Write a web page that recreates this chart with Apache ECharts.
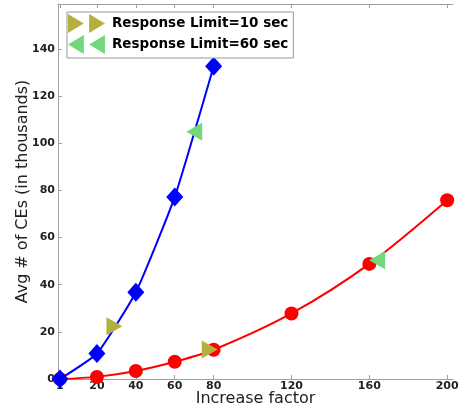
<!DOCTYPE html>
<html>
<head>
<meta charset="utf-8">
<script src="https://cdn.jsdelivr.net/npm/echarts@6/dist/echarts.min.js"></script>
<style>html,body{margin:0;padding:0;background:#fff;}#c{width:460px;height:410px;}</style>
</head>
<body>
<div id="c"></div>
<script>
// Data
const xTicks = [1, 20, 40, 60, 80, 120, 160, 200];
const yTicks = [0, 20, 40, 60, 80, 100, 120, 140];
const blueX = [1, 20, 40, 60, 80];
const blueY = [0, 10.8, 36.8, 77.2, 132.6];
const redX = [1, 20, 40, 60, 80, 120, 160, 200];
const redY = [0, 0.9, 3.4, 7.3, 12.4, 27.8, 48.8, 75.8];
const lim10X = [29, 78];
const lim10Y = [22.4, 12.5];
const lim60X = [70, 164];
const lim60Y = [104.8, 50.4];
const name10 = 'Response Limit=10 sec';
const name60 = 'Response Limit=60 sec';
const xName = 'Increase factor';
const yName = 'Avg # of CEs (in thousands)';

const zip = (xs, ys) => xs.map((x, i) => [x, ys[i]]);
const font = 'DejaVu Sans';
const axisGrey = '#a0a0a0';

const chart = echarts.init(document.getElementById('c'), null, {renderer: 'canvas'});
chart.setOption({
  animation: false,
  backgroundColor: '#fff',
  grid: {left: 58, right: 7, top: 4, bottom: 31, containLabel: false, outerBoundsMode: 'none'},
  legend: {
    left: 67, top: 12, orient: 'vertical',
    padding: [2, 5, 4, 1],
    itemGap: 2, itemWidth: 37, itemHeight: 19,
    borderColor: '#999', borderWidth: 1, backgroundColor: '#fff',
    symbolRotate: 0,
    textStyle: {fontFamily: font, fontWeight: 'bold', fontSize: 13.5, color: '#000', padding: [0, 0, 0, 2]},
    data: [
      {name: name10, icon: 'path://M0,0L15,9L0,18ZM20,0L35,9L20,18Z'},
      {name: name60, icon: 'path://M15,0L0,9L15,18ZM35,0L20,9L35,18Z'}
    ]
  },
  xAxis: [{
    type: 'value', min: 0, max: 203, position: 'bottom',
    name: xName, nameLocation: 'middle', nameGap: 12, nameMoveOverlap: false,
    nameTextStyle: {fontFamily: font, fontSize: 16, color: '#222', verticalAlign: 'top'},
    axisLine: {show: true, lineStyle: {color: axisGrey}},
    axisTick: {show: true, inside: true, length: 4, customValues: xTicks, lineStyle: {color: axisGrey}},
    axisLabel: {customValues: xTicks, margin: 2, fontFamily: font, fontWeight: 'bold', fontSize: 11, color: '#222'},
    splitLine: {show: false}
  }, {
    type: 'value', min: 0, max: 203, position: 'top',
    axisLine: {show: true, lineStyle: {color: axisGrey}},
    axisTick: {show: true, inside: true, length: 4, customValues: xTicks, lineStyle: {color: axisGrey}},
    axisLabel: {show: false},
    splitLine: {show: false}
  }],
  yAxis: {
    type: 'value', min: 0, max: 159,
    name: yName, nameLocation: 'middle', nameGap: 27, nameRotate: 90, nameMoveOverlap: false,
    nameTextStyle: {fontFamily: font, fontSize: 16, color: '#222'},
    axisLine: {show: true, lineStyle: {color: axisGrey}},
    axisTick: {show: true, inside: true, length: 4, customValues: yTicks, lineStyle: {color: axisGrey}},
    axisLabel: {customValues: yTicks, margin: 3, fontFamily: font, fontWeight: 'bold', fontSize: 11, color: '#222'},
    splitLine: {show: false}
  },
  series: [
    {
      type: 'line', name: 'red', data: zip(redX, redY), smooth: 0.3,
      symbol: 'circle', symbolSize: 14, showAllSymbol: true,
      lineStyle: {color: '#ff0000', width: 2}, itemStyle: {color: '#ff0000'}, z: 2
    },
    {
      type: 'line', name: 'blue', data: zip(blueX, blueY), smooth: 0.15,
      symbol: 'diamond', symbolSize: [17, 19], showAllSymbol: true,
      lineStyle: {color: '#0000ff', width: 2}, itemStyle: {color: '#0000ff'}, z: 3
    },
    {
      type: 'scatter', name: name10, data: zip(lim10X, lim10Y),
      symbol: 'triangle', symbolRotate: -90, symbolSize: [18, 16],
      itemStyle: {color: '#b3b03e', opacity: 1}, z: 4
    },
    {
      type: 'scatter', name: name60, data: zip(lim60X, lim60Y),
      symbol: 'triangle', symbolRotate: 90, symbolSize: [18, 16],
      itemStyle: {color: '#72d87c', opacity: 1}, z: 4
    }
  ]
});
</script>
</body>
</html>
